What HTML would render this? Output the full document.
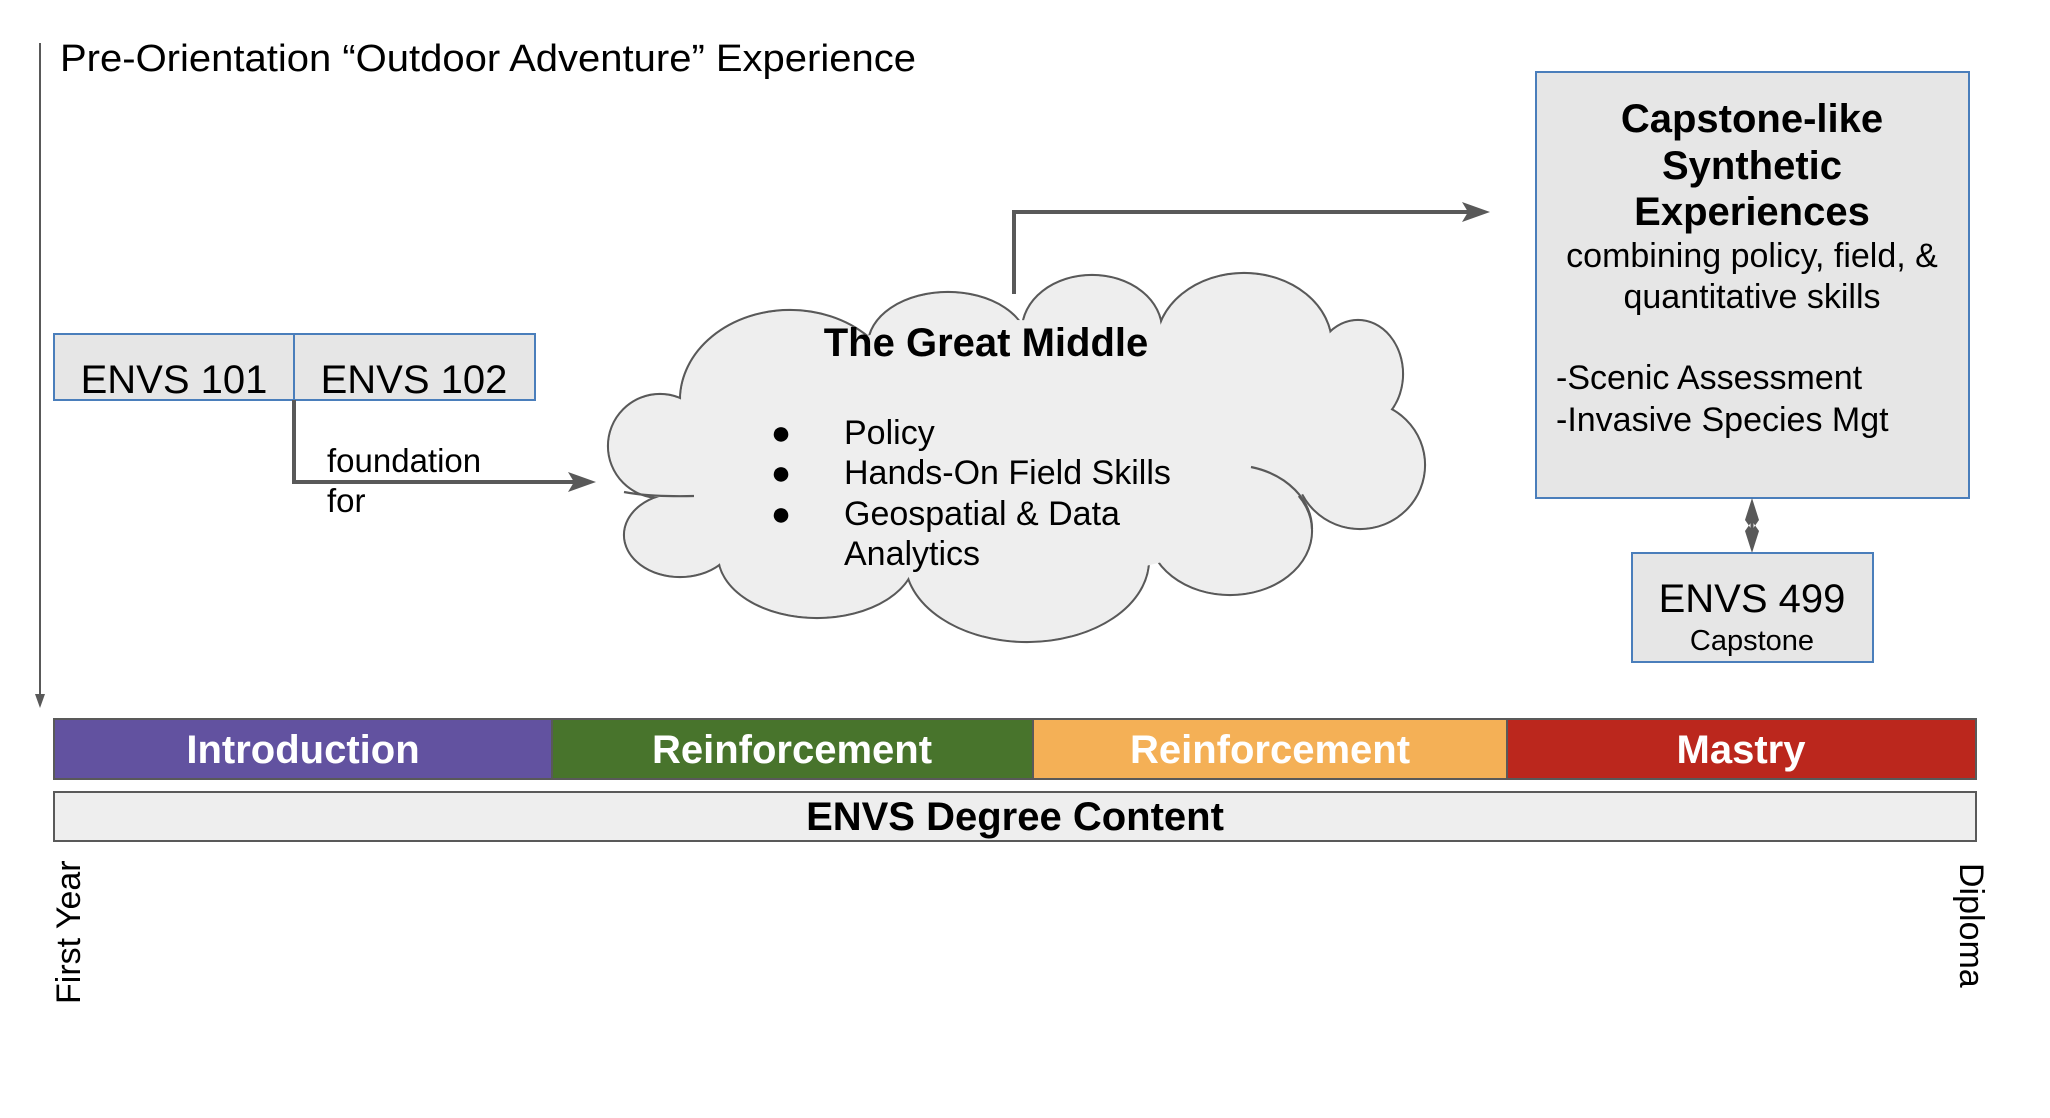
<!DOCTYPE html>
<html><head><meta charset="utf-8"><style>
html,body{margin:0;padding:0;background:#fff;}
svg{display:block;}
text{font-family:"Liberation Sans",Arial,sans-serif;}
</style></head><body>
<svg width="2050" height="1118" viewBox="0 0 2050 1118" xmlns="http://www.w3.org/2000/svg">
<!-- timeline vertical arrow -->
<line x1="40" y1="43" x2="40" y2="700" stroke="#595959" stroke-width="2"/>
<path d="M35,694 L45,694 L40,708 Z" fill="#595959"/>
<text x="60" y="71" font-size="38" textLength="856" lengthAdjust="spacingAndGlyphs">Pre-Orientation “Outdoor Adventure” Experience</text>

<!-- ENVS 101/102 -->
<rect x="54" y="334" width="240" height="66" fill="#e6e6e6" stroke="#4a7ebb" stroke-width="2"/>
<rect x="294" y="334" width="241" height="66" fill="#e6e6e6" stroke="#4a7ebb" stroke-width="2"/>
<text x="174" y="393" font-size="40" text-anchor="middle">ENVS 101</text>
<text x="414" y="393" font-size="40" text-anchor="middle">ENVS 102</text>
<path d="M294,400 L294,482 L580,482" fill="none" stroke="#595959" stroke-width="4"/>
<path d="M568,472 L596,482 L568,492 L574,482 Z" fill="#595959"/>
<text x="327" y="472" font-size="33">foundation</text>
<text x="327" y="512" font-size="33">for</text>

<!-- cloud: stroked ellipses then fills on top -->
<g fill="none" stroke="#595959" stroke-width="2.2">
<ellipse cx="790" cy="400" rx="110" ry="90"/>
<ellipse cx="948" cy="345" rx="80" ry="53"/>
<ellipse cx="1092" cy="330" rx="70" ry="55"/>
<ellipse cx="1244" cy="345" rx="88" ry="72"/>
<ellipse cx="1358" cy="374" rx="45" ry="54"/>
<ellipse cx="1360" cy="465" rx="65" ry="64"/>
<ellipse cx="1230" cy="531" rx="82" ry="64"/>
<ellipse cx="1027" cy="560" rx="122" ry="82"/>
<ellipse cx="817" cy="555" rx="99" ry="63"/>
<ellipse cx="680" cy="535" rx="56" ry="42"/>
<ellipse cx="660" cy="446" rx="52" ry="52"/>
</g>
<g fill="#eeeeee">
<ellipse cx="790" cy="400" rx="109" ry="89"/>
<ellipse cx="948" cy="345" rx="79" ry="52"/>
<ellipse cx="1092" cy="330" rx="69" ry="54"/>
<ellipse cx="1244" cy="345" rx="87" ry="71"/>
<ellipse cx="1358" cy="374" rx="44" ry="53"/>
<ellipse cx="1360" cy="465" rx="64" ry="63"/>
<ellipse cx="1230" cy="531" rx="81" ry="63"/>
<ellipse cx="1027" cy="560" rx="121" ry="81"/>
<ellipse cx="817" cy="555" rx="98" ry="62"/>
<ellipse cx="680" cy="535" rx="55" ry="41"/>
<ellipse cx="660" cy="446" rx="51" ry="51"/>
<polygon points="790,400 948,345 1092,330 1244,345 1358,374 1360,465 1230,531 1027,560 817,555 680,535 660,446"/>
<ellipse cx="1010" cy="450" rx="300" ry="130"/>
</g>
<g fill="none" stroke="#595959" stroke-width="2.2">
<path d="M1251,467 A82,64 0 0 1 1312,529"/>
<path d="M624,492 Q650,497 694,496"/>
</g>
<text x="986" y="356" font-size="40" font-weight="bold" text-anchor="middle">The Great Middle</text>
<g font-size="34">
<text x="781" y="444" text-anchor="middle">●</text><text x="844" y="444">Policy</text>
<text x="781" y="484" text-anchor="middle">●</text><text x="844" y="484">Hands-On Field Skills</text>
<text x="781" y="525" text-anchor="middle">●</text><text x="844" y="525">Geospatial &amp; Data</text>
<text x="844" y="565">Analytics</text>
</g>
<path d="M1014,294 L1014,212 L1475,212" fill="none" stroke="#595959" stroke-width="4"/>
<path d="M1462,202 L1490,212 L1462,222 L1468,212 Z" fill="#595959"/>

<!-- capstone-like -->
<rect x="1536" y="72" width="433" height="426" fill="#e6e6e6" stroke="#4a7ebb" stroke-width="2"/>
<g text-anchor="middle" font-weight="bold" font-size="40">
<text x="1752" y="132">Capstone-like</text>
<text x="1752" y="179">Synthetic</text>
<text x="1752" y="225">Experiences</text>
</g>
<text x="1752" y="267" font-size="34" text-anchor="middle">combining policy, field, &amp;</text>
<text x="1752" y="308" font-size="34" text-anchor="middle">quantitative skills</text>
<text x="1556" y="389" font-size="34">-Scenic Assessment</text>
<text x="1556" y="431" font-size="34">-Invasive Species Mgt</text>
<line x1="1752" y1="508" x2="1752" y2="543" stroke="#595959" stroke-width="3"/>
<path d="M1752,498 L1759,520 L1752,530 L1745,520 Z M1752,553 L1759,531 L1752,521 L1745,531 Z" fill="#595959"/>
<rect x="1632" y="553" width="241" height="109" fill="#e6e6e6" stroke="#4a7ebb" stroke-width="2"/>
<text x="1752" y="612" font-size="40" text-anchor="middle">ENVS 499</text>
<text x="1752" y="650" font-size="29" text-anchor="middle">Capstone</text>

<!-- bars -->
<rect x="54" y="719" width="498" height="60" fill="#6252a0" stroke="#595959" stroke-width="2"/>
<rect x="552" y="719" width="481" height="60" fill="#48742c" stroke="#595959" stroke-width="2"/>
<rect x="1033" y="719" width="474" height="60" fill="#f4b056" stroke="#595959" stroke-width="2"/>
<rect x="1507" y="719" width="469" height="60" fill="#bb271d" stroke="#595959" stroke-width="2"/>
<g fill="#fff" font-weight="bold" font-size="40" text-anchor="middle">
<text x="303" y="763">Introduction</text>
<text x="792" y="763">Reinforcement</text>
<text x="1270" y="763">Reinforcement</text>
<text x="1741" y="763">Mastry</text>
</g>
<rect x="54" y="792" width="1922" height="49" fill="#eeeeee" stroke="#595959" stroke-width="2"/>
<text x="1015" y="830" font-size="40" font-weight="bold" text-anchor="middle">ENVS Degree Content</text>

<text transform="translate(80,1004) rotate(-90)" font-size="34">First Year</text>
<text transform="translate(1960,863) rotate(90)" font-size="34">Diploma</text>
</svg>
</body></html>
